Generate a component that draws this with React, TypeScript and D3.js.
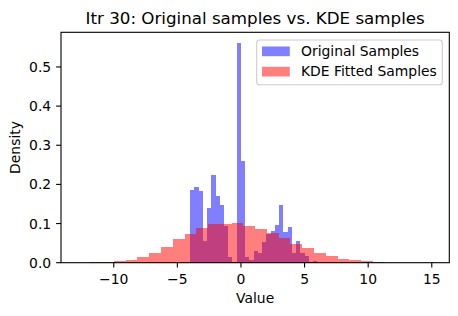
import React, { useEffect, useRef } from 'react';
import * as d3 from 'd3';

// histogram bin ranges (30 bins each)
const origRange = [-4.0, 6.0];
const kdeRange = [-12.76, 14.99];

// density per bin
const origDensity = [
  0.185, 0.193, 0.182, 0.056, 0.139, 0.223, 0.17, 0.148, 0.095, 0.0137,
  0.003, 0.5605, 0.259, 0.0137, 0.007, 0.03, 0.026, 0.053, 0.074, 0.081,
  0.096, 0.147, 0.079, 0.091, 0.024, 0.055, 0.024, 0.018, 0.003, 0.005,
];
const kdeDensity = [
  0.0005, 0.0018, 0.0018, 0.0043, 0.0076, 0.0145, 0.0246, 0.04, 0.06, 0.073,
  0.088, 0.0985, 0.0985, 0.102, 0.093, 0.086, 0.075, 0.064, 0.047, 0.037,
  0.0246, 0.017, 0.0094, 0.0068, 0.0043, 0.0017, 0, 0, 0, 0.0005,
];

const xTicks = [-10, -5, 0, 5, 10, 15];
const yTicks = [0, 0.1, 0.2, 0.3, 0.4, 0.5];
const seriesNames = ['Original Samples', 'KDE Fitted Samples'];

const W = 458, H = 316;
const FONT = 'DejaVu Sans, sans-serif';

const toBins = (range: number[], dens: number[]) => {
  const n = dens.length;
  const w = (range[1] - range[0]) / n;
  return dens.map((d, i) => ({ x0: range[0] + i * w, x1: range[0] + (i + 1) * w, d }));
};

const App = () => {
  const ref = useRef<SVGSVGElement | null>(null);

  useEffect(() => {
    const svg = d3.select(ref.current);
    svg.selectAll('*').remove();

    const left = 61, right = 449.3, top = 32.3, bottom = 262.7;

    const lo = Math.min(origRange[0], kdeRange[0]);
    const hi = Math.max(origRange[1], kdeRange[1]);
    const pad = (hi - lo) * 0.05;
    const x = d3.scaleLinear().domain([lo - pad, hi + pad]).range([left, right]);
    const ymax = (d3.max([...origDensity, ...kdeDensity]) as number) * 1.05;
    const y = d3.scaleLinear().domain([0, ymax]).range([bottom, top]);

    const g = svg.append('g');

    const drawHist = (bins: { x0: number; x1: number; d: number }[], color: string) => {
      g.append('g')
        .selectAll('rect')
        .data(bins)
        .enter()
        .append('rect')
        .attr('x', d => x(d.x0))
        .attr('width', d => x(d.x1) - x(d.x0))
        .attr('y', d => y(d.d))
        .attr('height', d => y(0) - y(d.d))
        .attr('fill', color)
        .attr('fill-opacity', 0.5)
        .attr('shape-rendering', 'crispEdges');
    };
    drawHist(toBins(origRange, origDensity), 'blue');
    drawHist(toBins(kdeRange, kdeDensity), 'red');

    // spines
    g.append('rect')
      .attr('x', left).attr('y', top)
      .attr('width', right - left).attr('height', bottom - top)
      .attr('fill', 'none').attr('stroke', 'black').attr('stroke-width', 1.1);

    // x axis
    const xa = g.append('g');
    xTicks.forEach(t => {
      xa.append('line')
        .attr('x1', x(t)).attr('x2', x(t))
        .attr('y1', bottom).attr('y2', bottom + 4.9)
        .attr('stroke', 'black').attr('stroke-width', 1.1);
      xa.append('text')
        .attr('x', x(t)).attr('y', bottom + 20.8)
        .attr('text-anchor', 'middle')
        .style('font-family', FONT).style('font-size', '13.9px')
        .text(t < 0 ? '\u2212' + Math.abs(t) : String(t));
    });

    // y axis
    const ya = g.append('g');
    yTicks.forEach(t => {
      ya.append('line')
        .attr('x1', left - 4.9).attr('x2', left)
        .attr('y1', y(t)).attr('y2', y(t))
        .attr('stroke', 'black').attr('stroke-width', 1.1);
      ya.append('text')
        .attr('x', left - 9.8).attr('y', y(t) + 5)
        .attr('text-anchor', 'end')
        .style('font-family', FONT).style('font-size', '13.9px')
        .text(t.toFixed(1));
    });

    svg.append('text')
      .attr('x', (left + right) / 2).attr('y', 303)
      .attr('text-anchor', 'middle')
      .style('font-family', FONT).style('font-size', '13.9px')
      .text('Value');

    svg.append('text')
      .attr('transform', `translate(20,${(top + bottom) / 2}) rotate(-90)`)
      .attr('text-anchor', 'middle')
      .style('font-family', FONT).style('font-size', '13.9px')
      .text('Density');

    svg.append('text')
      .attr('x', (left + right) / 2).attr('y', 23.5)
      .attr('text-anchor', 'middle')
      .style('font-family', FONT).style('font-size', '16.7px')
      .text('Itr 30: Original samples vs. KDE samples');

    // legend
    const lg = svg.append('g');
    lg.append('rect')
      .attr('x', 256.7).attr('y', 40)
      .attr('width', 185.6).attr('height', 44.8)
      .attr('rx', 2.8)
      .attr('fill', 'white').attr('fill-opacity', 0.8)
      .attr('stroke', '#cccccc').attr('stroke-width', 1.1);
    ['blue', 'red'].forEach((c, i) => {
      const yy = 46.5 + i * 20.3;
      lg.append('rect')
        .attr('x', 262).attr('y', yy)
        .attr('width', 27.8).attr('height', 9.7)
        .attr('fill', c).attr('fill-opacity', 0.5);
      lg.append('text')
        .attr('x', 301).attr('y', yy + 9.4)
        .style('font-family', FONT).style('font-size', '13.9px')
        .text(seriesNames[i]);
    });
  }, []);

  return (
    <svg
      ref={ref}
      width={W}
      height={H}
      style={{ position: 'absolute', left: 0, top: 0, background: 'white' }}
    />
  );
};

export default App;
